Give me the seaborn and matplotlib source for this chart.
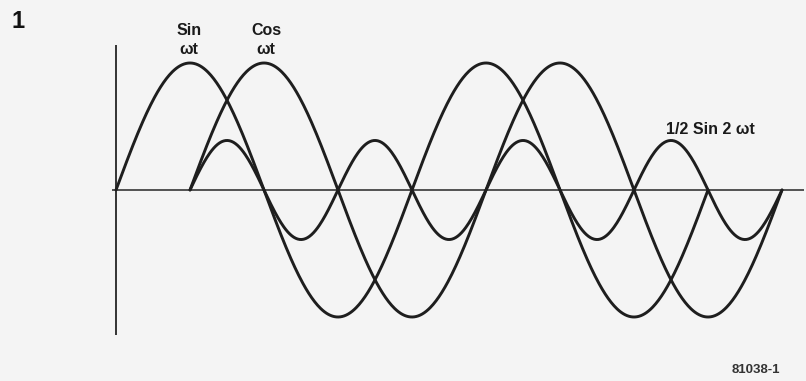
import numpy as np
import matplotlib
matplotlib.use("Agg")
import matplotlib.pyplot as plt
import seaborn as sns
import pandas as pd

sns.set_theme(style="white")
plt.rcParams["font.family"] = ["Liberation Sans", "DejaVu Sans"]

# Phase (radians) where each waveform starts, and how many cycles it spans
sin_start, sin_cycles = 0.0, 2
cos_start, cos_cycles = np.pi / 2, 2
prod_start, prod_cycles = np.pi / 2, 4
amp_full = 1.0
amp_prod = 0.39          # plotted height of the product curve
labels = ["Sin\n\u03c9t", "Cos\n\u03c9t", "1/2 Sin 2 \u03c9t"]
fig_number = "1"
ref_code = "81038-1"

def wave(start, cycles, amp, freq):
    t = np.linspace(start, start + cycles * 2 * np.pi / freq, 600)
    return pd.DataFrame({"t": t, "v": amp * np.sin(freq * (t - start))})

curves = [
    wave(sin_start, sin_cycles, amp_full, 1),
    wave(cos_start, cos_cycles, amp_full, 1),
    wave(prod_start, prod_cycles, amp_prod, 2),
]

bg = "#f4f4f4"
ink = "#1e1e1e"
fig = plt.figure(figsize=(8.06, 3.81), dpi=100, facecolor=bg)
ax = fig.add_axes([0, 0, 1, 1])
ax.set_facecolor(bg)

px_per_rad = 296 / (2 * np.pi)
px_per_unit = 127
x0_px, y0_px = 116, 190
ax.set_xlim(-x0_px / px_per_rad, (806 - x0_px) / px_per_rad)
ax.set_ylim(-(381 - y0_px) / px_per_unit, y0_px / px_per_unit)
ax.axis("off")

# coordinate axes
ax.plot([-0.08, (804 - x0_px) / px_per_rad], [0, 0], color="#444444", lw=1.3,
        solid_capstyle="butt", zorder=1)
ax.plot([0, 0], [(190 - 45) / px_per_unit, -(335 - 190) / px_per_unit],
        color="#333333", lw=1.4, solid_capstyle="butt", zorder=1)

for df in curves:
    sns.lineplot(data=df, x="t", y="v", ax=ax, color=ink, lw=2.1,
                 sort=False, estimator=None, zorder=3)

def to_data(px, py):
    return (px - x0_px) / px_per_rad, (y0_px - py) / px_per_unit

tkw = dict(color="#1a1a1a", fontweight="bold", fontsize=11.5,
           ha="center", va="center", linespacing=1.35)
ax.text(*to_data(189, 40), labels[0], **tkw)
ax.text(*to_data(266, 40), labels[1], **tkw)
ax.text(*to_data(710, 129), labels[2], **tkw)
ax.text(*to_data(18, 22), fig_number, color="#111111", fontweight="bold",
        fontsize=17, ha="center", va="center")
ax.text(*to_data(756, 370), ref_code, color="#333333", fontweight="bold",
        fontsize=9.5, ha="center", va="center")

fig.savefig("out.png", dpi=100, facecolor=bg)
